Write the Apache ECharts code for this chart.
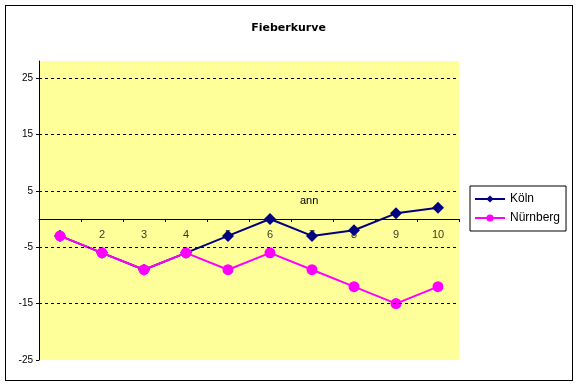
<!DOCTYPE html>
<html><head><meta charset="utf-8">
<script src="https://cdn.jsdelivr.net/npm/echarts@6/dist/echarts.min.js"></script>
<style>
html,body{margin:0;padding:0;background:#fff;}
#wrap{position:relative;width:577px;height:385px;}
#c{position:absolute;left:0;top:0;width:577px;height:385px;}
#frame{position:absolute;left:5px;top:5px;width:566px;height:374px;border:1px solid #000;pointer-events:none;}
</style></head>
<body><div id="wrap"><div id="c"></div><div id="frame"></div></div>
<script>
const categories = ['1','2','3','4','5','6','7','8','9','10'];
const koeln = [-3, -6, -9, -6, -3, 0, -3, -2, 1, 2];
const nuernberg = [-3, -6, -9, -6, -9, -6, -9, -12, -15, -12];
const yTicks = [-25, -15, -5, 5, 15, 25];
const gridValues = [-15, -5, 5, 15, 25];
const yMin = -25, yMax = 28;
const xAxisTitle = 'ann';

const chart = echarts.init(document.getElementById('c'), null, {renderer:'canvas'});
const font = 'Liberation Sans';
chart.setOption({
  animation:false,
  textStyle:{fontFamily:font},
  title:{text:'Fieberkurve',left:'center',top:18,textStyle:{fontSize:11,fontWeight:'bold',color:'#000',fontFamily:'DejaVu Sans'}},
  legend:{
    orient:'vertical',left:470,top:186,
    borderColor:'#000',borderWidth:1,padding:[7,6,7,4],itemGap:7,
    itemWidth:30,itemHeight:9,
    textStyle:{fontSize:12,color:'#000',fontFamily:font},
    data:['Köln','Nürnberg']
  },
  grid:{left:39,right:118,top:61,bottom:25,show:true,backgroundColor:'#FFFF99',borderWidth:0,
        containLabel:false,outerBoundsMode:'none'},
  graphic:[{type:'text',left:300,top:195,z:5,
    style:{text:xAxisTitle,fontSize:11,fill:'#000',fontFamily:font}}],
  xAxis:{
    type:'category',data:categories,boundaryGap:true,position:'bottom',
    axisLine:{onZero:true,lineStyle:{color:'#000',width:1}},
    axisTick:{show:true,length:3,lineStyle:{color:'#000'}},
    axisLabel:{show:false},
    splitLine:{show:false}
  },
  yAxis:{
    type:'value',min:yMin,max:yMax,
    axisLine:{show:true,lineStyle:{color:'#000',width:1}},
    axisTick:{show:true,length:3,customValues:yTicks,lineStyle:{color:'#000'}},
    axisLabel:{fontSize:10,color:'#000',margin:6,customValues:yTicks},
    splitLine:{show:false}
  },
  series:[
    {type:'line',name:'grid',data:[],z:1,silent:true,
     markLine:{silent:true,symbol:'none',label:{show:false},
       lineStyle:{color:'#000',type:[3,3],width:1},
       data:gridValues.map(v=>({yAxis:v}))}},
    {type:'scatter',name:'catLabels',z:1,silent:true,
     data:categories.map(c=>[c,0]),symbolSize:2,itemStyle:{color:'rgba(0,0,0,0)'},
     label:{show:true,position:'bottom',distance:10,formatter:p=>p.value[0],
       fontSize:11,color:'#000',fontFamily:font},
     labelLayout:{hideOverlap:false}},
    {type:'line',name:'Köln',data:koeln,z:3,
     symbol:'diamond',symbolSize:12,
     lineStyle:{color:'#000080',width:2},itemStyle:{color:'#000080'}},
    {type:'line',name:'Nürnberg',data:nuernberg,z:4,
     symbol:'circle',symbolSize:11,
     lineStyle:{color:'#FF00FF',width:2},itemStyle:{color:'#FF00FF'}}
  ]
});
</script></body></html>
